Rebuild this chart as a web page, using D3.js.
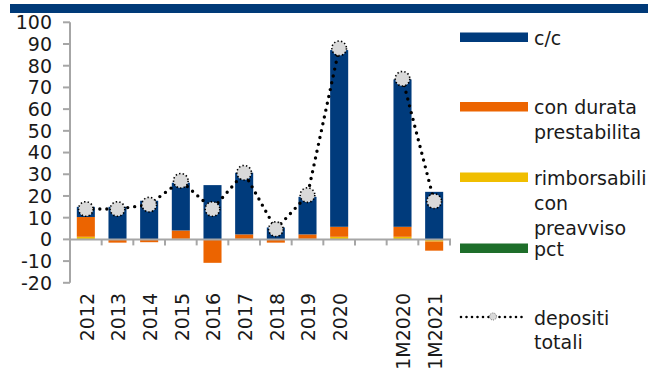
<!DOCTYPE html>
<html>
<head>
<meta charset="utf-8">
<script src="https://cdn.jsdelivr.net/npm/d3@7/dist/d3.min.js"></script>
<style>
  html, body { margin: 0; padding: 0; background: #fff; }
  svg { display: block; }
  text { font-family: "DejaVu Sans", sans-serif; fill: #1a1a1a; }
</style>
</head>
<body>
<svg id="chart" width="648" height="376"></svg>
<script>
// Categories (empty slot separates the annual and monthly figures)
const categories = ["2012","2013","2014","2015","2016","2017","2018","2019","2020","","1M2020","1M2021"];

// Contributions by deposit type
const contoCorrente   = [4.7, 15.0, 17.8, 22.0, 25.0, 28.4, 5.5, 17.3, 81.4, null, 67.9, 21.9];
const durataPrestab   = [9.1, -1.5, -1.3, 3.8, -10.8, 2.0, -1.5, 2.0, 4.6, null, 4.6, -4.2];
const rimborsabili    = [1.2, 0.0, 0.0, 0.3, 0.0, 0.3, 0.0, 0.3, 1.2, null, 1.2, -1.0];
const pct             = [0, 0, 0, 0, 0, 0, 0, 0, 0, null, 0, 0];
const depositiTotali  = [14.0, 14.0, 16.0, 27.0, 14.0, 30.7, 4.7, 20.4, 88.0, null, 74.0, 17.6];

const yTicks = [-20, -10, 0, 10, 20, 30, 40, 50, 60, 70, 80, 90, 100];

const seriesKeys   = ["rimb", "durata", "cc", "pct"];
const seriesColors = { cc: "#003b7c", durata: "#ec6400", rimb: "#f0be00", pct: "#1e6e2a" };

const legendItems = [
  { key: "cc",     lines: ["c/c"] },
  { key: "durata", lines: ["con durata", "prestabilita"] },
  { key: "rimb",   lines: ["rimborsabili", "con", "preavviso"] },
  { key: "pct",    lines: ["pct"] }
];

const rows = categories.map((c, i) => ({
  cat: c,
  cc: contoCorrente[i] || 0,
  durata: durataPrestab[i] || 0,
  rimb: rimborsabili[i] || 0,
  pct: pct[i] || 0,
  total: depositiTotali[i],
  empty: contoCorrente[i] == null
}));

const svg = d3.select("#chart");

// Header band
svg.append("rect").attr("x", 10).attr("y", 4).attr("width", 638).attr("height", 9).attr("fill", "#003a78");

const x = d3.scaleBand().domain(categories).range([70, 450]).paddingInner(0.43).paddingOuter(0.215);
const y = d3.scaleLinear().domain([-20, 100]).range([282.8, 22.3]);

// Y axis
const axisColor = "#a6a6a6";
svg.append("line").attr("x1", 70).attr("x2", 70).attr("y1", y(100)).attr("y2", y(-20))
  .attr("stroke", axisColor).attr("stroke-width", 2);
svg.selectAll(".ytick").data(yTicks).join("line")
  .attr("x1", 63).attr("x2", 70).attr("y1", d => y(d)).attr("y2", d => y(d))
  .attr("stroke", axisColor).attr("stroke-width", 2);
svg.selectAll(".ylab").data(yTicks).join("text")
  .attr("x", 52).attr("y", d => y(d)).attr("dy", "0.36em")
  .attr("text-anchor", "end").attr("font-size", 19)
  .text(d => d);

// Stacked bars (positive values up, negatives down)
const stack = d3.stack().keys(seriesKeys).offset(d3.stackOffsetDiverging);
const stacked = stack(rows);
svg.append("g").selectAll("g").data(stacked).join("g")
  .attr("fill", s => seriesColors[s.key])
  .selectAll("rect").data(s => s.filter(d => !d.data.empty && d[1] !== d[0]))
  .join("rect")
  .attr("x", d => x(d.data.cat))
  .attr("width", x.bandwidth())
  .attr("y", d => y(Math.max(d[0], d[1])))
  .attr("height", d => Math.abs(y(d[0]) - y(d[1])));

// X axis with tick marks at category boundaries
const step = x.step();
svg.append("line").attr("x1", 70).attr("x2", 451).attr("y1", y(0)).attr("y2", y(0))
  .attr("stroke", axisColor).attr("stroke-width", 2);
const boundaries = categories.map((c, i) => x(c) - x.paddingOuter() * step + step);
svg.selectAll(".xtick").data(boundaries).join("line")
  .attr("x1", d => d).attr("x2", d => d).attr("y1", y(0)).attr("y2", y(0) + 6)
  .attr("stroke", axisColor).attr("stroke-width", 2);
svg.selectAll(".xlab").data(categories.filter(c => c !== "")).join("text")
  .attr("transform", c => `translate(${x(c) + x.bandwidth() / 2 + 1},293) rotate(-90)`)
  .attr("dy", "0.36em").attr("text-anchor", "end").attr("font-size", 19)
  .text(c => c);

// Total deposits: dotted line and markers
const line = d3.line()
  .defined(d => d.total != null)
  .x(d => x(d.cat) + x.bandwidth() / 2)
  .y(d => y(d.total));
svg.append("path").datum(rows).attr("d", line)
  .attr("fill", "none").attr("stroke", "#000").attr("stroke-width", 3.4)
  .attr("stroke-linecap", "round").attr("stroke-dasharray", "0 7");
svg.selectAll(".marker").data(rows.filter(d => d.total != null)).join("circle")
  .attr("cx", d => x(d.cat) + x.bandwidth() / 2)
  .attr("cy", d => y(d.total))
  .attr("r", 7.3)
  .attr("fill", "#d9d9d9").attr("stroke", "#000").attr("stroke-width", 1.6)
  .attr("stroke-dasharray", "1.4 2.2");

// Legend
const legendY = { cc: 37, durata: 106.5, rimb: 177, pct: 248 };
const lg = svg.append("g");
legendItems.forEach(item => {
  const yy = legendY[item.key];
  lg.append("rect").attr("x", 460).attr("y", yy - 4.5).attr("width", 68).attr("height", 9.5)
    .attr("fill", seriesColors[item.key]);
  item.lines.forEach((t, j) => {
    lg.append("text").attr("x", 534).attr("y", yy + 1 + j * 25).attr("dy", "0.36em")
      .attr("font-size", 19).text(t);
  });
});
// Legend entry for the total
lg.append("line").attr("x1", 461).attr("x2", 527).attr("y1", 317).attr("y2", 317)
  .attr("stroke", "#000").attr("stroke-width", 2.6).attr("stroke-linecap", "round")
  .attr("stroke-dasharray", "0 5.5");
lg.append("circle").attr("cx", 493).attr("cy", 316.5).attr("r", 3.5)
  .attr("fill", "#d9d9d9").attr("stroke", "#666").attr("stroke-width", 1).attr("stroke-dasharray", "1 1.2");
["depositi", "totali"].forEach((t, j) => {
  lg.append("text").attr("x", 534).attr("y", 318 + j * 24).attr("dy", "0.36em")
    .attr("font-size", 19).text(t);
});
</script>
</body>
</html>
